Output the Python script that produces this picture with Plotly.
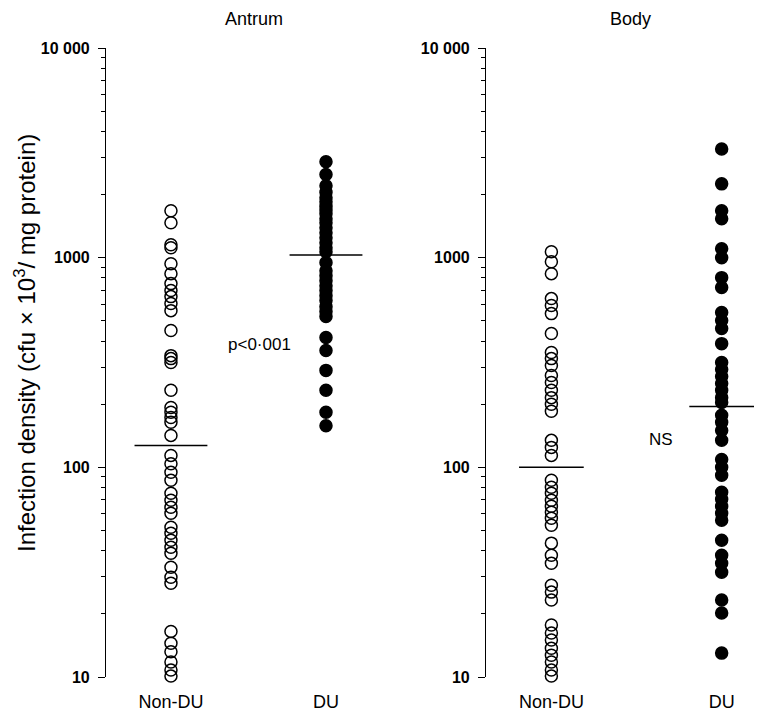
import plotly.graph_objects as go

# ---- data (cfu x 10^3 / mg protein) ----
groups = ["Non-DU", "DU"]
group_pos = [1, 2]

antrum_nondu = [1675, 1468, 1153, 1116, 936, 839, 752, 697, 652, 604, 559, 449,
                341, 330, 316, 233, 193, 183, 173, 164, 142, 114, 104, 94.7, 86.7,
                75.2, 69.7, 64.5, 60.4, 51.8, 48.5, 44.9, 41.6, 38.9, 33.4, 29.9,
                28.0, 16.5, 14.5, 13.2, 11.8, 10.8, 10.1]
antrum_du = [2870, 2490, 2200, 2050, 1930, 1850, 1760, 1690, 1620, 1535, 1468,
             1389, 1315, 1245, 1179, 1116, 1068, 947, 867, 821,
             777, 735, 697, 659, 624, 584, 553, 524, 416, 361, 290, 233, 183, 158]
body_nondu = [1068, 957, 839, 638, 591, 541, 435, 353, 330, 306, 274, 254, 233,
              215, 200, 185, 134.5, 124.5, 114, 86.7, 80.3, 75.2, 69.7, 65.2, 61.1,
              57.2, 52.9, 43.5, 38.1, 34.9, 27.4, 25.4, 23.3, 17.7, 16.2, 15.0,
              13.7, 12.7, 11.8, 10.8, 10.1]
body_du = [3300, 2249, 1675, 1535, 1104, 1000, 803, 720, 547, 501, 459, 389, 316,
           293, 271, 251, 233, 215, 204, 177, 164, 150, 134.5, 109, 100, 91.6, 76.0,
           70.4, 65.2, 60.4, 56.0, 44.9, 38.1, 34.9, 31.6, 23.3, 20.2, 13.0]

antrum_medians = [127, 1030]
body_medians = [100, 195]

y_tickvals = [10, 100, 1000, 10000]
y_ticktext = ["10", "100", "1000", "10 000"]
y_minor = [m * 10 ** e for e in (1, 2, 3) for m in range(2, 10)]

FONT = "Liberation Sans"
W, H = 769, 721
MT, MB = 40, 52

fig = go.Figure()

def add_column(xaxis, yaxis, x, vals, filled):
    fig.add_trace(go.Scatter(
        x=[x] * len(vals), y=vals, mode="markers", xaxis=xaxis, yaxis=yaxis,
        cliponaxis=False, showlegend=False, hoverinfo="y",
        marker=dict(symbol="circle" if filled else "circle-open", size=12,
                    color="black", line=dict(color="black", width=1.5))))

def add_median(xaxis, yaxis, x, m, hw):
    fig.add_trace(go.Scatter(
        x=[x - hw, x + hw], y=[m, m], mode="lines", xaxis=xaxis, yaxis=yaxis,
        cliponaxis=False, showlegend=False, hoverinfo="skip",
        line=dict(color="black", width=1.5)))

add_column("x", "y", group_pos[0], antrum_nondu, False)
add_column("x", "y", group_pos[1], antrum_du, True)
add_column("x2", "y2", group_pos[0], body_nondu, False)
add_column("x2", "y2", group_pos[1], body_du, True)
add_median("x", "y", group_pos[0], antrum_medians[0], 0.235)
add_median("x", "y", group_pos[1], antrum_medians[1], 0.235)
add_median("x2", "y2", group_pos[0], body_medians[0], 0.19)
add_median("x2", "y2", group_pos[1], body_medians[1], 0.19)

xcommon = dict(showgrid=False, zeroline=False, showline=False, ticks="",
               tickvals=group_pos, ticktext=groups, ticklabelstandoff=12,
               tickfont=dict(family=FONT, size=18, color="black"))
ycommon = dict(type="log", range=[1, 4], showgrid=False, zeroline=False,
               showline=True, linecolor="black", linewidth=1.2,
               ticks="outside", ticklen=7, tickwidth=1.2, tickcolor="black",
               tickvals=y_tickvals, ticktext=y_ticktext, ticklabelstandoff=5,
               tickfont=dict(family=FONT, size=16, color="black", weight="bold"),
               minor=dict(tickvals=y_minor, ticks="outside", ticklen=4,
                          tickwidth=1, tickcolor="black"))

fig.update_layout(
    width=W, height=H, margin=dict(l=0, r=0, t=MT, b=MB),
    paper_bgcolor="white", plot_bgcolor="white",
    xaxis=dict(domain=[98 / W, 420 / W], range=[0.581, 2.658], anchor="y", **xcommon),
    xaxis2=dict(domain=[478 / W, 1.0], range=[0.616, 2.325], anchor="y2", **xcommon),
    yaxis=dict(anchor="x", **ycommon),
    yaxis2=dict(anchor="x2", **ycommon),
)

def py(pix):
    return (H - MB - pix) / (H - MT - MB)

ann = [
    dict(text="Antrum", x=246 / W, y=py(11), size=18),
    dict(text="Body", x=622 / W, y=py(11), size=18),
    dict(text="p<0·001", x=251 / W, y=py(336), size=17),
    dict(text="NS", x=653 / W, y=py(431), size=17),
]
for a in ann:
    fig.add_annotation(text=a["text"], x=a["x"], y=a["y"], xref="paper", yref="paper",
                       showarrow=False, xanchor="center", yanchor="middle",
                       font=dict(family=FONT, size=a["size"], color="black"))

fig.add_annotation(text="Infection density (cfu × 10<sup>3</sup>/ mg protein)",
                   x=17 / W, y=py(335), xref="paper", yref="paper", textangle=-90,
                   showarrow=False, xanchor="center", yanchor="middle",
                   font=dict(family=FONT, size=24, color="black"))

fig.write_html("out.html")
